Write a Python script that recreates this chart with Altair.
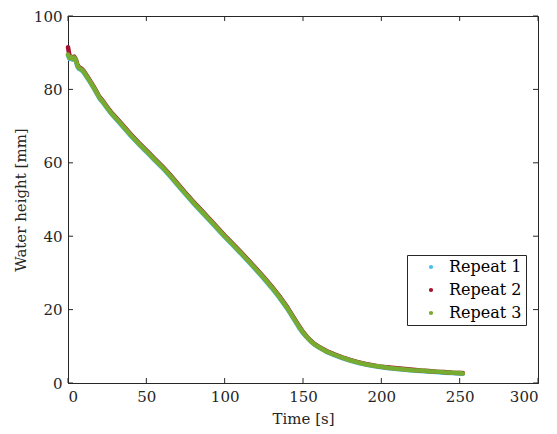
import altair as alt
import pandas as pd

# ---- data ----
times = [0, 1, 2, 3, 4, 5, 6, 7, 8, 9, 10, 12, 14, 16, 18, 20, 22.5, 25, 27.5, 30,
         35, 40, 45, 50, 55, 60, 65, 70, 75, 80, 85, 90, 95, 100, 105, 110, 115, 120,
         125, 130, 135, 140, 142.5, 145, 147.5, 150, 152.5, 155, 157.5, 160, 165, 170,
         175, 180, 185, 190, 195, 200, 205, 210, 215, 220, 225, 230, 235, 240, 245, 250, 252]

repeat1 = [89.2, 88.3, 88.5, 88.1, 88.4, 87.8, 86.2, 85.6, 85.4, 85.1, 84.6, 83.3, 82.0, 80.6, 79.1,
           77.6, 76.3, 74.8, 73.4, 72.2, 69.8, 67.4, 65.1, 63.0, 60.8, 58.7, 56.4, 53.9, 51.4, 49.0,
           46.7, 44.4, 42.1, 39.8, 37.6, 35.4, 33.1, 30.8, 28.4, 25.9, 23.2, 20.2, 18.5, 16.8, 15.1,
           13.6, 12.4, 11.3, 10.4, 9.7, 8.5, 7.6, 6.8, 6.1, 5.5, 5.0, 4.6, 4.3, 4.0, 3.8, 3.6, 3.4,
           3.3, 3.1, 3.0, 2.8, 2.7, 2.6, 2.5]

repeat2 = [91.5, 89.0, 88.9, 88.5, 88.9, 88.2, 86.8, 86.0, 85.8, 85.5, 85.0, 83.7, 82.4, 81.0, 79.5,
           78.0, 76.7, 75.2, 73.8, 72.6, 70.2, 67.8, 65.5, 63.4, 61.2, 59.1, 56.8, 54.3, 51.8, 49.4,
           47.1, 44.8, 42.5, 40.2, 38.0, 35.8, 33.5, 31.2, 28.8, 26.3, 23.6, 20.6, 18.9, 17.2, 15.5,
           13.9, 12.6, 11.5, 10.6, 9.9, 8.7, 7.8, 7.0, 6.3, 5.7, 5.2, 4.8, 4.4, 4.2, 4.0, 3.8, 3.6,
           3.4, 3.3, 3.1, 3.0, 2.8, 2.7, 2.7]

repeat3 = [89.5, 88.5, 88.8, 88.3, 88.7, 88.0, 86.5, 85.8, 85.6, 85.3, 84.8, 83.5, 82.2, 80.8, 79.3,
           77.8, 76.5, 75.0, 73.6, 72.4, 70.0, 67.6, 65.3, 63.2, 61.0, 58.9, 56.6, 54.1, 51.6, 49.2,
           46.9, 44.6, 42.3, 40.0, 37.8, 35.6, 33.3, 31.0, 28.6, 26.1, 23.4, 20.4, 18.7, 17.0, 15.3,
           13.8, 12.5, 11.4, 10.5, 9.8, 8.6, 7.7, 6.9, 6.2, 5.6, 5.1, 4.7, 4.4, 4.1, 3.9, 3.7, 3.5,
           3.4, 3.2, 3.1, 2.9, 2.8, 2.7, 2.6]

series_names = ["Repeat 1", "Repeat 2", "Repeat 3"]
series_colors = ["#4DBEEE", "#A2142F", "#77AC30"]

x_ticks = [0, 50, 100, 150, 200, 250, 300]
y_ticks = [0, 20, 40, 60, 80, 100]

rows = []
for name, vals in zip(series_names, [repeat1, repeat2, repeat3]):
    for t, h in zip(times, vals):
        rows.append({"Time": t, "Height": h, "Series": name})
df = pd.DataFrame(rows)

W, H = 470, 367
FONT = "DejaVu Serif"
AX = "#262626"

xscale = alt.Scale(domain=[0, 300], nice=False)
yscale = alt.Scale(domain=[0, 100], nice=False)

lines = alt.Chart(df).mark_line(strokeWidth=4.5, strokeJoin="round", strokeCap="round").encode(
    x=alt.X("Time:Q", scale=xscale,
            axis=alt.Axis(title="Time [s]", values=x_ticks, ticks=False, grid=False,
                          labelPadding=6, titlePadding=7)),
    y=alt.Y("Height:Q", scale=yscale,
            axis=alt.Axis(title="Water height [mm]", values=y_ticks, ticks=False, grid=False,
                          labelPadding=6, titlePadding=5)),
    color=alt.Color("Series:N",
                    scale=alt.Scale(domain=series_names, range=series_colors),
                    legend=alt.Legend(title=None, orient="none", legendX=339, legendY=239,
                                      symbolType="circle", symbolSize=5, symbolStrokeWidth=2,
                                      symbolOffset=12, labelOffset=10,
                                      labelFont=FONT, labelFontSize=16, labelColor="#000000",
                                      rowPadding=7, padding=4,
                                      strokeColor=AX, fillColor="#ffffff")),
    detail="Series:N",
    order="Time:Q",
)

xt = pd.DataFrame({"v": x_ticks})
yt = pd.DataFrame({"v": y_ticks})

tick_bottom = alt.Chart(xt).mark_rule(color=AX, strokeWidth=1).encode(
    x=alt.X("v:Q", scale=xscale), y=alt.value(H), y2=alt.value(H - 5))
tick_top = alt.Chart(xt).mark_rule(color=AX, strokeWidth=1).encode(
    x=alt.X("v:Q", scale=xscale), y=alt.value(0), y2=alt.value(5))
tick_left = alt.Chart(yt).mark_rule(color=AX, strokeWidth=1).encode(
    y=alt.Y("v:Q", scale=yscale), x=alt.value(0), x2=alt.value(5))
tick_right = alt.Chart(yt).mark_rule(color=AX, strokeWidth=1).encode(
    y=alt.Y("v:Q", scale=yscale), x=alt.value(W), x2=alt.value(W - 5))

chart = alt.layer(lines, tick_bottom, tick_top, tick_left, tick_right).properties(
    width=W, height=H,
    autosize=alt.AutoSizeParams(type="none"),
    padding={"left": 60, "top": 8, "right": 11, "bottom": 43},
    background="#ffffff",
).configure_view(
    stroke=AX, strokeWidth=1
).configure_axis(
    labelFont=FONT, labelFontSize=15, labelColor="#262626",
    titleFont=FONT, titleFontSize=15, titleFontWeight="normal", titleColor="#262626",
    domainColor=AX, domainWidth=1,
)

chart.save("out.html", embed_options={"renderer": "svg", "actions": False})
